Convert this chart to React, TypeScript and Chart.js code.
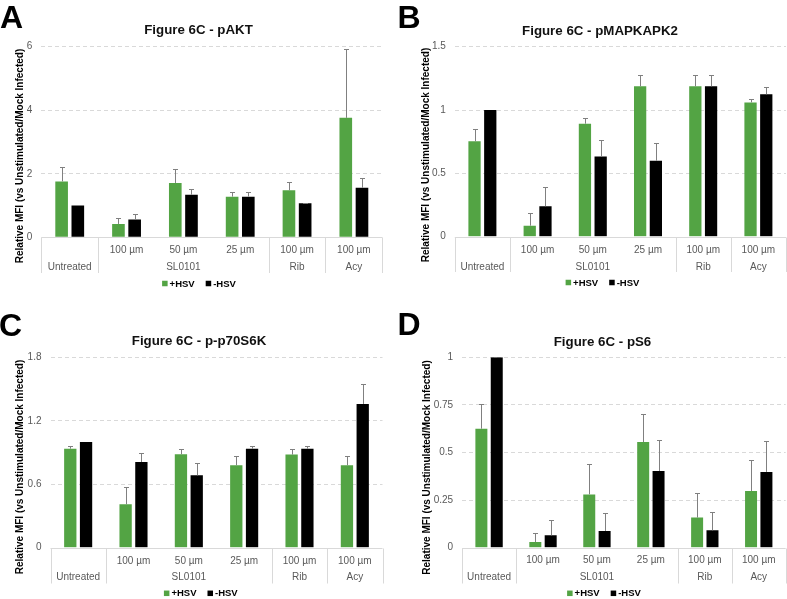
import React, { useEffect, useRef } from 'react';
import { Chart, registerables } from 'chart.js';

Chart.register(...registerables);

const FONT = 'Arial, "Liberation Sans", Helvetica, sans-serif';
const GREEN = '#53a444';
const BLACK = '#000000';
const ERR_COLOR = '#808080';

// ---- categories ----
const categories = ['', '100 µm', '50 µm', '25 µm', '100 µm', '100 µm'];
const groupLabels = ['Untreated', 'SL0101', 'Rib', 'Acy'];
const groupSpans = [1, 3, 1, 1];
const seriesNames = ['+HSV', '-HSV'];
const yAxisTitle = 'Relative MFI (vs Unstimulated/Mock Infected)';

// ---- A: pAKT ----
const aktPlus = [1.76, 0.42, 1.71, 1.28, 1.48, 3.76];
const aktPlusErr = [0.44, 0.18, 0.44, 0.15, 0.27, 2.16];
const aktMinus = [1.0, 0.56, 1.34, 1.28, 1.07, 1.56];
const aktMinusErr = [0, 0.16, 0.17, 0.15, 0.01, 0.32];
const aktTicks = [0, 2, 4, 6];

// ---- B: pMAPKAPK2 ----
const mapPlus = [0.753, 0.087, 0.892, 1.187, 1.187, 1.06];
const mapPlusErr = [0.094, 0.103, 0.042, 0.093, 0.093, 0.024];
const mapMinus = [1.0, 0.24, 0.634, 0.6, 1.187, 1.124];
const mapMinusErr = [0, 0.152, 0.129, 0.137, 0.093, 0.055];
const mapTicks = [0, 0.5, 1, 1.5];

// ---- C: p-p70S6K ----
const p70Plus = [0.936, 0.41, 0.883, 0.779, 0.88, 0.779];
const p70PlusErr = [0.029, 0.161, 0.047, 0.088, 0.05, 0.088];
const p70Minus = [1.0, 0.81, 0.684, 0.936, 0.936, 1.359];
const p70MinusErr = [0, 0.082, 0.116, 0.029, 0.029, 0.186];
const p70Ticks = [0, 0.6, 1.2, 1.8];

// ---- D: pS6 ----
const s6Plus = [0.625, 0.03, 0.28, 0.555, 0.158, 0.298];
const s6PlusErr = [0.128, 0.049, 0.158, 0.145, 0.129, 0.161];
const s6Minus = [1.0, 0.065, 0.088, 0.403, 0.091, 0.398];
const s6MinusErr = [0, 0.08, 0.092, 0.161, 0.095, 0.161];
const s6Ticks = [0, 0.25, 0.5, 0.75, 1];

type PanelCfg = {
  letter: string;
  title: string;
  plus: number[];
  plusErr: number[];
  minus: number[];
  minusErr: number[];
  ticks: number[];
  canvas: { left: number; top: number; w: number; h: number };
  plot: { l: number; r: number; t: number; b: number };
  titlePos: { cx: number; cy: number };
  yTitlePos: { cx: number; cy: number };
  letterPos: { x: number; y: number };
  row1Y: number;
  row2Y: number;
  tableBottom: number;
  legend: { cx: number; cy: number };
};

const panels: PanelCfg[] = [
  {
    letter: 'A', title: 'Figure 6C - pAKT',
    plus: aktPlus, plusErr: aktPlusErr, minus: aktMinus, minusErr: aktMinusErr, ticks: aktTicks,
    canvas: { left: 0, top: 0, w: 393, h: 300 },
    plot: { l: 41.3, r: 382.3, t: 46.7, b: 237.3 },
    titlePos: { cx: 198.5, cy: 30 },
    yTitlePos: { cx: 20.5, cy: 156 },
    letterPos: { x: 0, y: 28 },
    row1Y: 250, row2Y: 267.3, tableBottom: 273,
    legend: { cx: 199, cy: 283.5 },
  },
  {
    letter: 'B', title: 'Figure 6C - pMAPKAPK2',
    plus: mapPlus, plusErr: mapPlusErr, minus: mapMinus, minusErr: mapMinusErr, ticks: mapTicks,
    canvas: { left: 393, top: 0, w: 394, h: 300 },
    plot: { l: 454.8, r: 786, t: 46.7, b: 236.7 },
    titlePos: { cx: 600, cy: 31.5 },
    yTitlePos: { cx: 426.7, cy: 155 },
    letterPos: { x: 397.6, y: 28 },
    row1Y: 250, row2Y: 267.3, tableBottom: 272,
    legend: { cx: 602.5, cy: 282.5 },
  },
  {
    letter: 'C', title: 'Figure 6C - p-p70S6K',
    plus: p70Plus, plusErr: p70PlusErr, minus: p70Minus, minusErr: p70MinusErr, ticks: p70Ticks,
    canvas: { left: 0, top: 300, w: 393, h: 299 },
    plot: { l: 50.5, r: 382.5, t: 357.3, b: 547.7 },
    titlePos: { cx: 199, cy: 341.7 },
    yTitlePos: { cx: 20.7, cy: 467 },
    letterPos: { x: -1, y: 336 },
    row1Y: 561, row2Y: 577.7, tableBottom: 583.5,
    legend: { cx: 200.8, cy: 593.3 },
  },
  {
    letter: 'D', title: 'Figure 6C - pS6',
    plus: s6Plus, plusErr: s6PlusErr, minus: s6Minus, minusErr: s6MinusErr, ticks: s6Ticks,
    canvas: { left: 393, top: 300, w: 394, h: 299 },
    plot: { l: 462.1, r: 785.7, t: 357.3, b: 547.7 },
    titlePos: { cx: 602.5, cy: 342.7 },
    yTitlePos: { cx: 427.3, cy: 467.5 },
    letterPos: { x: 397.6, y: 335 },
    row1Y: 560.5, row2Y: 577.7, tableBottom: 583.5,
    legend: { cx: 604, cy: 593.3 },
  },
];

function makeDecor(cfg: PanelCfg, errors: number[][], colors: string[]) {
  const ox = cfg.canvas.left;
  const oy = cfg.canvas.top;
  return {
    id: 'decor',
    afterDatasetsDraw(chart: any) {
      const { ctx } = chart;
      const ys = chart.scales.y;
      ctx.save();
      ctx.strokeStyle = ERR_COLOR;
      ctx.lineWidth = 1;
      chart.data.datasets.forEach((ds: any, d: number) => {
        const meta = chart.getDatasetMeta(d);
        meta.data.forEach((el: any, j: number) => {
          const e = errors[d][j];
          if (!e) return;
          const v = ds.data[j];
          const x = Math.round(el.x) + 0.5;
          const yt = Math.round(ys.getPixelForValue(v + e)) + 0.5;
          ctx.beginPath();
          ctx.moveTo(x, el.y);
          ctx.lineTo(x, yt);
          ctx.moveTo(x - 2.5, yt);
          ctx.lineTo(x + 2.5, yt);
          ctx.stroke();
        });
      });
      ctx.restore();
    },
    afterDraw(chart: any) {
      const { ctx, chartArea: ca } = chart;
      const xs = chart.scales.x;
      ctx.save();
      // panel letter
      ctx.fillStyle = '#000';
      ctx.font = `bold 32px ${FONT}`;
      ctx.textAlign = 'left';
      ctx.textBaseline = 'alphabetic';
      ctx.fillText(cfg.letter, cfg.letterPos.x - ox, cfg.letterPos.y - oy);
      // title
      ctx.font = `bold 13.3px ${FONT}`;
      ctx.textAlign = 'center';
      ctx.textBaseline = 'middle';
      ctx.fillStyle = '#111';
      ctx.fillText(cfg.title, cfg.titlePos.cx - ox, cfg.titlePos.cy - oy);
      // y-axis title
      ctx.save();
      ctx.translate(cfg.yTitlePos.cx - ox, cfg.yTitlePos.cy - oy);
      ctx.rotate(-Math.PI / 2);
      ctx.font = `bold 10px ${FONT}`;
      ctx.fillStyle = '#000';
      ctx.fillText(yAxisTitle, 0, 0);
      ctx.restore();
      // category table
      const n = categories.length;
      const W = (ca.right - ca.left) / n;
      const tb = cfg.tableBottom - oy;
      ctx.strokeStyle = '#d9d9d9';
      ctx.lineWidth = 1;
      ctx.beginPath();
      const yb = Math.round(ca.bottom) + 0.5;
      ctx.moveTo(ca.left, yb);
      ctx.lineTo(ca.right, yb);
      let idx = 0;
      const bounds = [0];
      groupSpans.forEach((s) => { idx += s; bounds.push(idx); });
      bounds.forEach((b) => {
        const x = Math.round(ca.left + b * W) + 0.5;
        ctx.moveTo(x, yb);
        ctx.lineTo(x, tb);
      });
      ctx.stroke();
      ctx.fillStyle = '#595959';
      ctx.font = `10px ${FONT}`;
      ctx.textAlign = 'center';
      ctx.textBaseline = 'middle';
      categories.forEach((c, i) => {
        if (c) ctx.fillText(c, xs.getPixelForValue(i), cfg.row1Y - oy);
      });
      let start = 0;
      groupLabels.forEach((g, gi) => {
        const s = groupSpans[gi];
        const cx = ca.left + (start + s / 2) * W;
        ctx.fillText(g, cx, cfg.row2Y - oy);
        start += s;
      });
      // legend
      ctx.font = `bold 9.5px ${FONT}`;
      const sq = 5.5, gapTxt = 2, gapItem = 11;
      const widths = seriesNames.map((s) => sq + gapTxt + ctx.measureText(s).width);
      const total = widths.reduce((a, b) => a + b, 0) + gapItem * (seriesNames.length - 1);
      let lx = cfg.legend.cx - ox - total / 2;
      const ly = cfg.legend.cy - oy;
      seriesNames.forEach((s, i) => {
        ctx.fillStyle = colors[i];
        ctx.fillRect(lx, ly - sq / 2, sq, sq);
        ctx.fillStyle = '#000';
        ctx.textAlign = 'left';
        ctx.fillText(s, lx + sq + gapTxt, ly + 0.5);
        lx += widths[i] + gapItem;
      });
      ctx.restore();
    },
  };
}

function Panel({ cfg }: { cfg: PanelCfg }) {
  const ref = useRef<HTMLCanvasElement>(null);
  useEffect(() => {
    const cv = cfg.canvas;
    const p = cfg.plot;
    const colors = [GREEN, BLACK];
    const chart = new Chart(ref.current as HTMLCanvasElement, {
      type: 'bar',
      data: {
        labels: categories,
        datasets: [
          { label: seriesNames[0], data: cfg.plus, backgroundColor: GREEN, borderWidth: 0, categoryPercentage: 0.57, barPercentage: 0.78 },
          { label: seriesNames[1], data: cfg.minus, backgroundColor: BLACK, borderWidth: 0, categoryPercentage: 0.57, barPercentage: 0.78 },
        ],
      },
      options: {
        responsive: false,
        maintainAspectRatio: false,
        animation: false,
        devicePixelRatio: 1,
        layout: {
          autoPadding: false,
          padding: { left: 0, top: p.t - cv.top, right: cv.left + cv.w - p.r, bottom: 0 },
        },
        plugins: {
          legend: { display: false },
          title: { display: false },
          tooltip: { enabled: false },
        },
        scales: {
          x: {
            type: 'category',
            offset: true,
            grid: { display: false },
            border: { display: false },
            ticks: { display: false },
            afterFit: (s: any) => { s.height = cv.top + cv.h - p.b; },
          },
          y: {
            min: cfg.ticks[0],
            max: cfg.ticks[cfg.ticks.length - 1],
            ticks: {
              stepSize: cfg.ticks[1] - cfg.ticks[0],
              padding: 9,
              color: '#595959',
              font: { size: 10, family: FONT },
              callback: (v: any) => String(+Number(v).toFixed(4)),
            },
            grid: {
              color: (c: any) => (c.tick && c.tick.value === 0 ? 'rgba(0,0,0,0)' : '#d9d9d9'),
              drawTicks: false,
              lineWidth: 1,
            },
            border: { display: false, dash: [4, 3] },
            afterFit: (s: any) => { s.width = p.l - cv.left; },
          },
        },
      } as any,
      plugins: [makeDecor(cfg, [cfg.plusErr, cfg.minusErr], colors) as any],
    });
    return () => chart.destroy();
  }, [cfg]);
  const cv = cfg.canvas;
  return (
    <canvas
      ref={ref}
      width={cv.w}
      height={cv.h}
      style={{ position: 'absolute', left: cv.left, top: cv.top, width: cv.w, height: cv.h, display: 'block' }}
    />
  );
}

export default function App() {
  return (
    <div style={{ position: 'fixed', left: 0, top: 0, width: 787, height: 599, background: '#fff', overflow: 'hidden' }}>
      {panels.map((cfg) => (
        <Panel key={cfg.letter} cfg={cfg} />
      ))}
    </div>
  );
}
